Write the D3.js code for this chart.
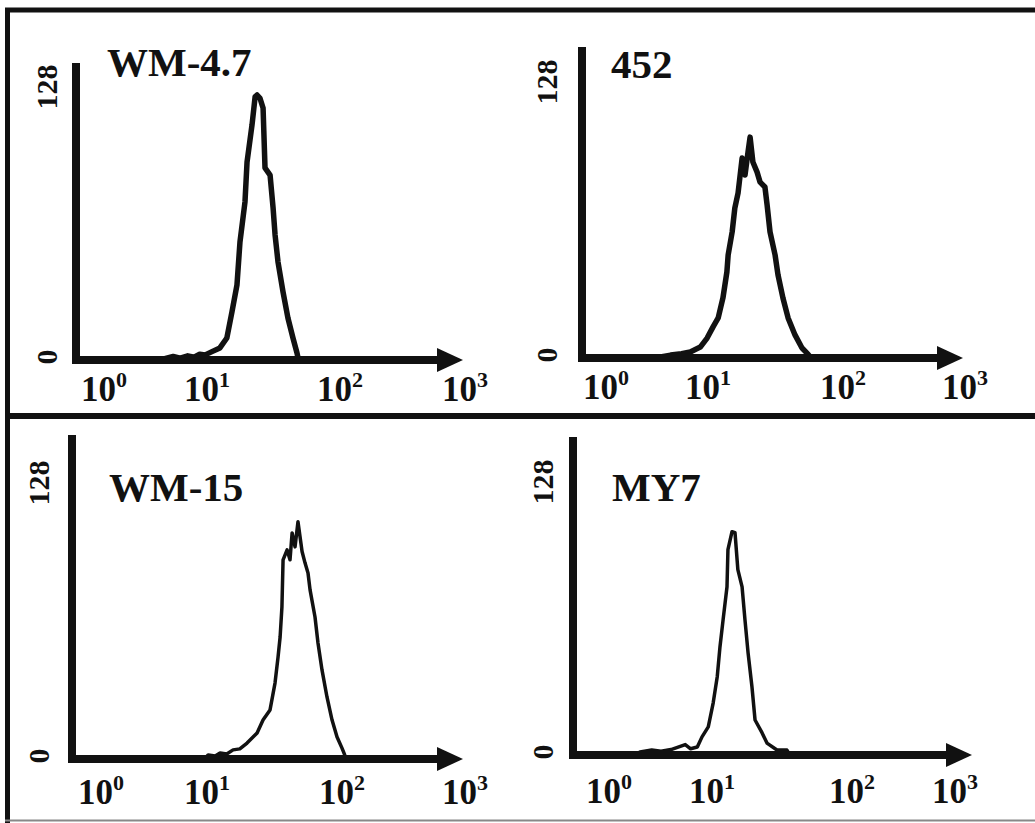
<!DOCTYPE html>
<html>
<head>
<meta charset="utf-8">
<script src="https://cdn.jsdelivr.net/npm/d3@7"></script>
<style>
  body { margin: 0; background: #fff; }
  text { font-family: "Liberation Serif", "Times New Roman", serif; font-weight: bold; fill: #111; }
</style>
</head>
<body>
<div class="canva"></div>
<script>
// histogram readings: [fluorescence intensity, cell count]
const wm47 = [[3.5,0],[4.7,1.5],[5.5,0.8],[6.5,1.8],[7.5,1.2],[8.5,2.5],[9.6,2.2],[10.8,3.5],[12.5,5.2],[14.1,9.5],[15.4,20.7],[16.8,32.3],[17.7,50.9],[19.3,68.1],[20.0,85.3],[21.8,101.3],[23.0,113.4],[23.8,114.2],[25.0,112.9],[26.4,108.6],[27.3,82.8],[29.8,79.7],[31.4,65.5],[32.5,53.9],[34.2,42.2],[37.3,29.3],[40.6,18.1],[44.3,9.5],[47.5,3.0],[48.3,1.0],[50,0]];
const s452 = [[3.0,0],[4.3,1.2],[5.5,1.8],[6.7,2.5],[8.4,4.5],[9.8,8.2],[10.9,12.8],[11.9,16.5],[12.9,24.7],[13.8,35.4],[14.1,42.4],[15.1,51.9],[15.8,61.7],[16.7,67.9],[17.9,82.3],[18.8,75.3],[19.8,84.8],[20.5,90.9],[21.5,80.7],[23.1,76.5],[24.3,72.4],[26.4,70.4],[27.4,63.0],[28.8,51.9],[31.4,42.4],[33.0,34.2],[35.9,24.7],[39.2,16.5],[44.1,9.5],[49.7,4.1],[55.0,1.6],[58,0]];
const wm15 = [[9.5,0],[10.2,1.6],[11.5,1.2],[12.5,2.4],[14,2],[15.6,3.6],[17.5,4],[19.8,6.3],[23.5,10.3],[26.0,15.4],[29.3,19.4],[31.9,30.0],[33.6,40.3],[34.8,48.2],[35.9,60.1],[36.6,78.7],[39.2,82.6],[41.2,78.7],[42.7,89.3],[44.9,83.8],[47.2,93.7],[50.6,82],[53.2,77.5],[56.0,73.5],[58.0,66.8],[63.1,56.1],[66.4,45.8],[71.1,35.2],[77.4,24.5],[84.4,15.4],[91.9,8.7],[100,4.3],[105.2,1.6],[108,0]];
const my7 = [[1.8,0],[2.0,1.2],[2.6,2],[3.2,1.5],[4,2.2],[5.5,4.2],[6.2,2.5],[7.2,3.2],[8.0,7.3],[9.2,11.3],[10.2,21.0],[10.9,31.5],[11.4,43.5],[12.0,54.4],[12.8,67.7],[13.0,82.7],[13.9,89.9],[14.6,89.5],[15.3,74.6],[16.4,67.7],[17.2,54.4],[18.1,41.1],[19.3,27.4],[20.3,14.1],[22.8,8.9],[24.7,4.8],[29.1,2.0],[34.3,2.0],[36,0]];

const samples = ["WM-4.7", "452", "WM-15", "MY7"];
const decades = [1, 10, 100, 1000];
const exponents = ["0", "1", "2", "3"];
const yTicks = [0, 128];

// where each panel sits on the page (scanned figure, so not quite regular)
const layout = [
  {yAxisX: 76,  top: 63,  axisY: 360, tip: 463, ticks: [104, 207, 340, 465], tickY: 401, labX: 46,  lab128: 87,  titleX: 107, titleY: 76,  lw: 5.5},
  {yAxisX: 582, top: 47,  axisY: 358, tip: 963, ticks: [606, 708, 843, 965], tickY: 399, labX: 546, lab128: 82,  titleX: 611, titleY: 78,  lw: 5.5},
  {yAxisX: 72,  top: 435, axisY: 759, tip: 463, ticks: [101, 207, 342, 465], tickY: 804, labX: 38,  lab128: 483, titleX: 109, titleY: 501, lw: 3.5},
  {yAxisX: 573, top: 437, axisY: 755, tip: 972, ticks: [609, 712, 852, 955], tickY: 803, labX: 542, lab128: 482, titleX: 612, titleY: 501, lw: 3.5}
];
const series = [wm47, s452, wm15, my7];

const svg = d3.select('.canva').append('svg')
    .attr('width', 1035)
    .attr('height', 823);

// frame
svg.append('line').attr('x1', 5).attr('x2', 1035).attr('y1', 10).attr('y2', 10)
    .attr('stroke', '#111').attr('stroke-width', 5);
svg.append('line').attr('x1', 7.5).attr('x2', 7.5).attr('y1', 8).attr('y2', 823)
    .attr('stroke', '#111').attr('stroke-width', 5);
svg.append('line').attr('x1', 5).attr('x2', 1035).attr('y1', 416).attr('y2', 416)
    .attr('stroke', '#111').attr('stroke-width', 6);
svg.append('line').attr('x1', 5).attr('x2', 1035).attr('y1', 820.5).attr('y2', 820.5)
    .attr('stroke', '#888').attr('stroke-width', 2);

layout.forEach((p, i) => {
    const g = svg.append('g');

    const x = d3.scaleLog().domain(decades).range(p.ticks);
    const y = d3.scaleLinear().domain([0, 128]).range([p.axisY, p.top]);

    const line = d3.line()
        .x(d => x(d[0]))
        .y(d => y(d[1]));

    g.append('path')
        .datum(series[i])
        .attr('d', line)
        .attr('fill', 'none')
        .attr('stroke', '#111')
        .attr('stroke-width', p.lw)
        .attr('stroke-linejoin', 'round');

    // y axis
    g.append('line')
        .attr('x1', p.yAxisX).attr('x2', p.yAxisX)
        .attr('y1', y(128)).attr('y2', y(0) + 4)
        .attr('stroke', '#111').attr('stroke-width', 8);

    // x axis with arrow head
    const base = p.tip - 26;
    g.append('line')
        .attr('x1', p.yAxisX - 4).attr('x2', base + 2)
        .attr('y1', y(0)).attr('y2', y(0))
        .attr('stroke', '#111').attr('stroke-width', 8);
    g.append('path')
        .attr('d', `M${base},${y(0) - 12}L${p.tip},${y(0)}L${base},${y(0) + 12}Z`)
        .attr('fill', '#111');

    // decade labels
    const tl = g.selectAll('text.tick')
        .data(decades)
        .enter().append('text')
        .attr('class', 'tick')
        .attr('x', d => x(d))
        .attr('y', p.tickY)
        .attr('text-anchor', 'middle')
        .style('font-size', '35px');
    tl.append('tspan').text('10');
    tl.append('tspan')
        .attr('dy', -14)
        .style('font-size', '22px')
        .text((d, k) => exponents[k]);

    // count labels, rotated
    g.selectAll('text.count')
        .data(yTicks)
        .enter().append('text')
        .attr('class', 'count')
        .attr('transform', d => `translate(${p.labX},${d === 0 ? y(0) - 3 : p.lab128}) rotate(-90)`)
        .attr('text-anchor', 'middle')
        .attr('dominant-baseline', 'central')
        .style('font-size', '30px')
        .text(d => d);

    g.append('text')
        .attr('x', p.titleX)
        .attr('y', p.titleY)
        .style('font-size', '41px')
        .text(samples[i]);
});
</script>
</body>
</html>
